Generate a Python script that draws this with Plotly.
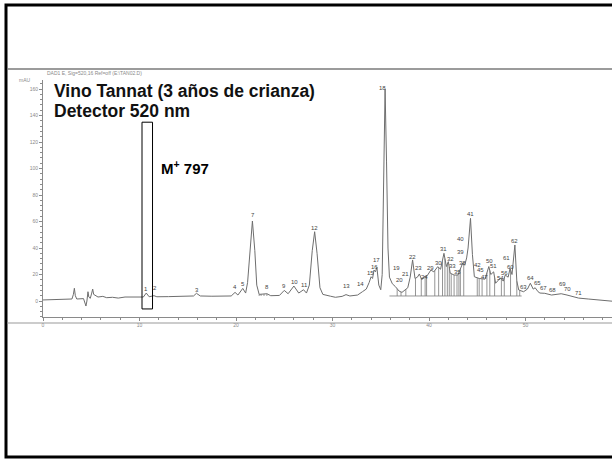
import numpy as np
import plotly.graph_objects as go

W, H = 612, 461

# Chromatogram trace (retention time in min, absorbance in mAU)
time_min = [0.0, 2.0, 3.0, 3.15, 3.25, 3.35, 3.5, 4.2, 4.35, 4.45, 4.55, 4.66, 4.75, 4.9,
            5.05, 5.15, 5.25, 5.45, 5.7, 6.2, 6.6, 7.2, 7.8, 8.5, 9.5, 10.4, 10.7, 11.0,
            11.5, 11.8, 13.0, 14.5, 15.6, 15.9, 16.3, 17.5, 19.5, 19.9, 20.2, 20.7, 21.0,
            21.2, 21.45, 21.7, 21.95, 22.15, 22.4, 23.2, 23.6, 24.5, 25.0, 25.4, 26.0,
            26.5, 27.0, 27.3, 27.6, 27.9, 28.15, 28.4, 28.7, 29.0, 29.8, 30.3, 31.0, 31.4,
            31.8, 32.6, 33.1, 33.5, 33.8, 34.0, 34.15, 34.3, 34.45, 34.6, 34.8, 35.0, 35.15,
            35.3, 35.45, 35.6, 35.75, 35.9, 36.2, 36.5, 36.9, 37.2, 37.5, 37.8, 38.05,
            38.3, 38.55, 38.8, 39.0, 39.25, 39.5, 39.8, 40.2, 40.5, 40.9, 41.2, 41.55,
            41.8, 42.0, 42.2, 42.6, 43.0, 43.5, 43.7, 43.9, 44.05, 44.3, 44.5, 44.7, 45.2,
            45.8, 46.2, 46.4, 46.7, 46.9, 47.4, 47.7, 47.9, 48.2, 48.4, 48.6, 48.9, 49.1,
            49.3, 49.8, 50.2, 50.5, 50.8, 51.0, 51.3, 51.5, 52.0, 52.7, 53.2, 53.7, 54.3,
            55.0, 55.5, 56.5, 57.5, 58.5, 59.5]
signal_mau = [0.8, 1.0, 1.5, 5.0, 9.6, 4.0, 1.5, 1.8, -1.0, -3.8, 0.0, 7.0, 3.0, 2.0,
              6.0, 9.0, 5.0, 4.0, 3.0, 3.5, 2.5, 2.8, 2.2, 3.0, 2.8, 3.0, 6.0, 3.2,
              4.0, 3.2, 3.3, 3.5, 3.8, 5.8, 3.8, 3.6, 3.8, 6.5, 4.5, 9.5, 6.0,
              14.0, 40.0, 60.4, 38.0, 12.0, 5.0, 5.5, 4.0, 4.2, 8.0, 5.5, 11.3,
              6.0, 8.5, 6.0, 12.0, 38.0, 52.3, 36.0, 10.0, 5.0, 3.6, 2.8, 3.5, 4.8,
              3.8, 4.5, 7.0, 9.0, 14.0, 18.3, 17.0, 23.4, 22.0, 25.4, 12.0, 8.5, 20.0,
              110.0, 160.0, 105.0, 40.0, 18.0, 13.0, 11.0, 7.5, 6.5, 8.5, 10.0, 18.0,
              31.0, 17.0, 18.0, 20.4, 16.0, 18.3, 19.0, 23.4, 22.0, 25.9, 24.0, 36.0,
              26.0, 29.7, 21.0, 19.6, 19.6, 28.7, 27.0, 32.5, 40.0, 62.4, 35.0, 18.3, 17.0,
              16.5, 26.0, 20.0, 22.0, 13.4, 17.4, 15.0, 19.6, 18.0, 24.6, 20.0, 42.3, 15.0,
              8.3, 7.0, 9.0, 13.4, 9.0, 10.0, 7.0, 6.0, 5.8, 4.5, 5.0, 5.5, 4.5,
              3.0, 2.2, 1.5, 0.8, 0.2, -0.5]

# Peak numbers and where their labels sit (min, mAU)
peak_labels = ["1", "2", "3", "4", "5", "7", "8", "9", "10", "11", "12", "13", "14", "15",
               "16", "17", "18", "19", "20", "21", "22", "23", "24", "29", "30", "31", "32",
               "33", "35", "38", "39", "40", "41", "42", "45", "47", "50", "51", "54", "56",
               "60", "61", "62", "63", "64", "65", "67", "68", "69", "70", "71"]
label_time = [10.67, 11.6, 16.0, 19.9, 20.7, 21.73, 23.2, 25.0, 26.1, 27.05, 28.15, 31.4,
              32.9, 33.95, 34.3, 34.6, 35.15, 36.6, 36.9, 37.6, 38.3, 38.96, 39.5, 40.2,
              40.96, 41.55, 42.2, 42.45, 43.0, 43.5, 43.3, 43.3, 44.3, 45.0, 45.3, 45.8,
              46.25, 46.7, 47.4, 47.8, 48.4, 48.05, 48.9, 49.8, 50.5, 51.2, 51.9, 52.8,
              53.8, 54.4, 55.5]
label_mau = [8.8, 9.6, 8.3, 10.8, 12.8, 65.0, 10.3, 11.3, 14.1, 12.0, 55.3, 11.3, 12.8,
             20.9, 25.4, 31.0, 160.5, 24.7, 15.8, 20.2, 33.4, 24.7, 18.3, 24.7, 28.4,
             39.0, 31.7, 26.7, 22.0, 28.4, 37.2, 46.6, 65.7, 27.2, 23.4, 18.3, 30.4,
             26.4, 17.1, 20.9, 25.4, 32.7, 45.0, 10.8, 17.1, 13.4, 9.6, 8.3, 12.8, 8.8, 5.8]

# Integration drop lines (min) and the integration baseline level (mAU)
drop_times = [22.4, 22.6, 22.9, 23.2, 36.7, 37.1, 37.6, 38.6, 39.2, 39.6, 39.75, 40.6,
              41.0, 41.4, 41.65, 41.9, 42.1, 42.3, 42.6, 42.9, 43.1, 43.25, 43.6, 45.0,
              45.2, 45.5, 46.0, 46.3, 46.8, 47.5, 47.8, 48.45, 49.1, 49.4]
base_level = 3.8

# Marked retention window for M+ 797
window_min = [10.26, 11.35]
window_mau = [-6.0, 135.0]

x_ticks = [0, 10, 20, 30, 40, 50, 60]
y_ticks = [0, 20, 40, 60, 80, 100, 120, 140, 160]

# pixel geometry of the plot area
X0_PX, X1_PX = 43, 612
Y_TOP_PX, Y_BOT_PX = 80, 317
PX_PER_MIN = 9.65
PX_PER_MAU = 1.3245
ZERO_PX = 301

x_range = [0, (X1_PX - X0_PX) / PX_PER_MIN]
y_range = [(ZERO_PX - Y_BOT_PX) / PX_PER_MAU, (ZERO_PX - Y_TOP_PX) / PX_PER_MAU]


def px(x):
    return x / W


def py(y):
    return 1 - y / H


GREY = "#6e6e6e"
FONT = "Liberation Sans, Arial, sans-serif"

fig = go.Figure()

fig.add_trace(go.Scatter(x=time_min, y=signal_mau, mode="lines",
                         line=dict(color=GREY, width=1), hoverinfo="skip",
                         showlegend=False))

# integration baseline and drop lines
drop_top = np.interp(drop_times, time_min, signal_mau)
dx, dy = [], []
for t, top in zip(drop_times, drop_top):
    dx += [t, t, None]
    dy += [base_level, float(top), None]
dx += [min(drop_times[4:]) - 0.8, max(drop_times) + 0.2, None]
dy += [base_level, base_level, None]
fig.add_trace(go.Scatter(x=dx, y=dy, mode="lines",
                         line=dict(color="#7a7a7a", width=0.8), hoverinfo="skip",
                         showlegend=False))

annotations = []
for lab, t, v in zip(peak_labels, label_time, label_mau):
    annotations.append(dict(x=t, y=v, xref="x", yref="y", text=lab, showarrow=False,
                            font=dict(family=FONT, size=6, color="#444444"),
                            xanchor="center", yanchor="middle"))

# header and texts on the slide
annotations += [
    dict(x=px(45), y=py(73), xref="paper", yref="paper",
         text="DAD1 E, Sig=520,16 Ref=off (E:\\TAN02.D)", showarrow=False,
         font=dict(family=FONT, size=5, color="#8a8a8a"), xanchor="left", yanchor="middle"),
    dict(x=px(33), y=py(80), xref="paper", yref="paper", text="mAU", showarrow=False,
         font=dict(family=FONT, size=5, color="#8a8a8a"), xanchor="right", yanchor="middle"),
    dict(x=px(52), y=py(91), xref="paper", yref="paper",
         text="<b>Vino Tannat (3 años de crianza)</b>", showarrow=False,
         font=dict(family=FONT, size=17.5, color="#111111"), xanchor="left", yanchor="middle"),
    dict(x=px(52), y=py(111), xref="paper", yref="paper",
         text="<b>Detector 520 nm</b>", showarrow=False,
         font=dict(family=FONT, size=17.5, color="#111111"), xanchor="left", yanchor="middle"),
    dict(x=px(159), y=py(167), xref="paper", yref="paper",
         text="<b>M<sup>+</sup> 797</b>", showarrow=False,
         font=dict(family=FONT, size=15, color="#000000"), xanchor="left", yanchor="middle"),
]

shapes = [
    # slide frame
    dict(type="rect", xref="paper", yref="paper", x0=px(6), x1=px(620), y0=py(457), y1=py(5),
         line=dict(color="#000000", width=3)),
    # separator lines above and below the chromatogram
    dict(type="line", xref="paper", yref="paper", x0=px(7), x1=1, y0=py(69), y1=py(69),
         line=dict(color="#7a7a7a", width=1.5)),
    dict(type="line", xref="paper", yref="paper", x0=px(7), x1=1, y0=py(323), y1=py(323),
         line=dict(color="#9a9a9a", width=1.2)),
    # retention window box
    dict(type="rect", xref="x", yref="y", x0=window_min[0], x1=window_min[1],
         y0=window_mau[0], y1=window_mau[1], line=dict(color="#000000", width=1)),
]

axis_common = dict(showgrid=False, zeroline=False, showline=True, linecolor="#8a8a8a",
                   linewidth=1, ticks="outside", ticklen=3, tickcolor="#8a8a8a",
                   tickfont=dict(family=FONT, size=5, color="#8a8a8a"), fixedrange=True)

fig.update_layout(
    width=W, height=H, margin=dict(l=0, r=0, t=0, b=0),
    paper_bgcolor="white", plot_bgcolor="white",
    xaxis=dict(domain=[px(X0_PX), 1], range=x_range, tickvals=x_ticks,
               minor=dict(dtick=2, ticks="outside", ticklen=2, tickcolor="#8a8a8a"),
               anchor="y", **axis_common),
    yaxis=dict(domain=[py(Y_BOT_PX), py(Y_TOP_PX)], range=y_range, tickvals=y_ticks,
               minor=dict(dtick=4, ticks="outside", ticklen=2, tickcolor="#8a8a8a"),
               anchor="x", **axis_common),
    annotations=annotations, shapes=shapes,
)

fig.write_html("out.html")
